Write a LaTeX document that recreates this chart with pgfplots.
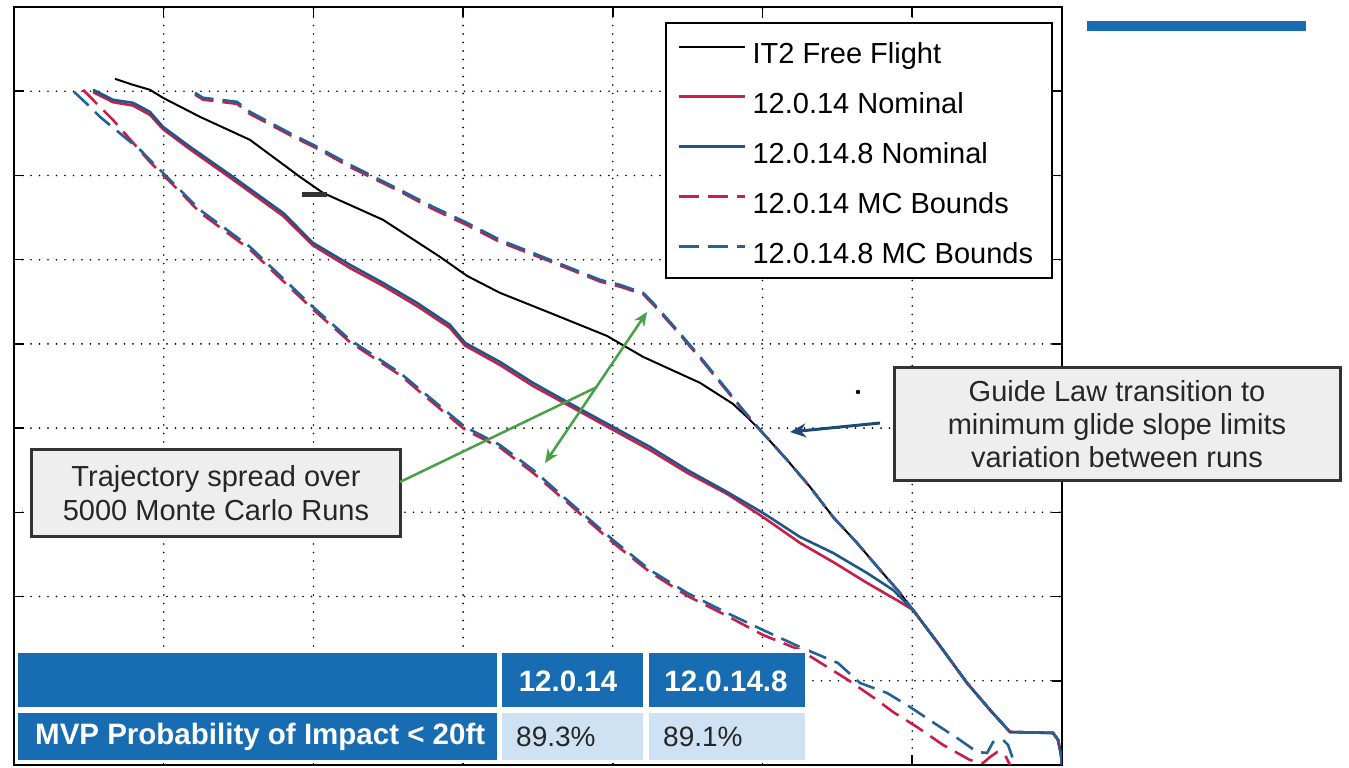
\documentclass[border=0pt]{standalone}
\usepackage{fontspec}
\setmainfont{Liberation Sans}
\usepackage{pgfplots}
\pgfplotsset{compat=1.18}
\usetikzlibrary{arrows.meta}

\definecolor{mblue}{RGB}{30,86,136}
\definecolor{mbluedash}{RGB}{34,98,150}
\definecolor{mred}{RGB}{200,30,72}
\definecolor{tblue}{RGB}{24,108,178}
\definecolor{tlight}{RGB}{207,226,243}
\definecolor{boxgray}{RGB}{238,238,238}
\definecolor{annblue}{RGB}{28,74,118}
\definecolor{agreen}{RGB}{72,160,72}

\begin{document}
\begin{tikzpicture}
\path[use as bounding box] (0,0) rectangle (1349pt,768pt);
\begin{axis}[
  at={(14pt,3pt)}, anchor=south west,
  scale only axis, width=1048pt, height=758pt,
  xmin=0, xmax=7, ymin=0, ymax=9,
  xtick={0,...,7}, ytick={0,...,9},
  xticklabels={}, yticklabels={},
  tick pos=both, tick align=inside, major tick length=10pt,
  every tick/.style={black, line width=1.5pt},
  axis line style={line width=2pt},
  grid=major,
  major grid style={black, line width=1.8pt, dash pattern=on 0pt off 8.5pt, line cap=round},
  legend cell align=left,
  legend image code/.code={\path (0pt,0pt); \draw[#1] (0pt,4pt) -- (66pt,4pt);},
  legend style={at={(0.6212,0.9802)}, anchor=north west, draw=black, line width=2pt,
    fill=white, font=\fontsize{29}{29}\selectfont, inner xsep=12pt, inner ysep=11pt,
    row sep=17pt, nodes={inner sep=0pt, text height=29pt, text depth=4pt},
    /tikz/every odd column/.append style={column sep=6pt}},
]
% IT2 Free Flight
\addplot[black, line width=2pt] coordinates {
(0.675,8.147) (0.795,8.076) (0.908,8.017) (0.995,7.922) (1.242,7.696) (1.576,7.423)
(1.910,6.983) (2.064,6.793) (2.465,6.473) (2.846,6.033) (3.026,5.808) (3.246,5.606)
(3.581,5.368) (3.961,5.095) (4.202,4.846) (4.583,4.537) (4.803,4.287) (4.896,4.133)
(4.983,3.979) (5.164,3.622) (5.317,3.302) (5.471,2.945) (5.631,2.637) (5.785,2.316)
(5.918,2.043) (6.005,1.841) (6.186,1.413) (6.366,0.974) (6.520,0.653) (6.653,0.392)
(6.941,0.380) (6.974,0.297) (6.994,0.119) (7.000,0.000)};
\addlegendentry{IT2 Free Flight}
% 12.0.14 Nominal
\addplot[mred, line width=2.6pt] coordinates {
(0.528,7.990) (0.661,7.870) (0.795,7.830) (0.908,7.720) (0.995,7.550) (1.176,7.310)
(1.463,6.950) (1.797,6.520) (1.997,6.170) (2.245,5.900) (2.465,5.690) (2.692,5.450)
(2.912,5.190) (3.013,4.980) (3.246,4.750) (3.467,4.500) (3.694,4.280) (4.001,3.980)
(4.248,3.740) (4.496,3.470) (4.763,3.219) (5.003,2.945) (5.250,2.637) (5.471,2.411)
(5.698,2.162) (5.918,1.936) (6.005,1.841) (6.186,1.413) (6.366,0.974) (6.520,0.653)
(6.653,0.392) (6.941,0.380) (6.974,0.297) (6.994,0.119) (7.000,0.000)};
\addlegendentry{12.0.14 Nominal}
% 12.0.14.8 Nominal
\addplot[mblue, line width=2.6pt] coordinates {
(0.528,8.017) (0.661,7.898) (0.795,7.862) (0.908,7.755) (0.995,7.577) (1.176,7.340)
(1.463,6.983) (1.797,6.556) (1.997,6.200) (2.245,5.938) (2.465,5.724) (2.692,5.487)
(2.912,5.226) (3.013,5.012) (3.246,4.786) (3.467,4.537) (3.694,4.311) (4.001,4.014)
(4.248,3.777) (4.496,3.504) (4.763,3.242) (5.003,2.993) (5.250,2.708) (5.471,2.518)
(5.698,2.280) (5.872,2.078) (5.939,1.960) (6.005,1.841) (6.186,1.413) (6.366,0.974)
(6.520,0.653) (6.653,0.392) (6.941,0.380) (6.974,0.297) (6.994,0.119) (7.000,0.000)};
\addlegendentry{12.0.14.8 Nominal}
% 12.0.14 MC Bounds (lower, upper)
\addplot[mred, line width=2.6pt, dash pattern=on 20pt off 9pt] coordinates {
(0.461,8.017) (0.574,7.815) (0.661,7.660) (0.908,7.160) (1.129,6.770) (1.242,6.560)
(1.576,6.120) (1.997,5.410) (2.245,5.020) (2.578,4.630) (3.013,3.980) (3.246,3.770)
(3.467,3.470) (3.694,3.120) (4.001,2.640) (4.248,2.290) (4.496,2.010) (4.763,1.770)
(5.003,1.544) (5.250,1.366) (5.571,1.010) (5.765,0.772) (5.872,0.629) (6.032,0.451)
(6.206,0.238) (6.386,0.059) (6.473,0.024) (6.520,0.095) (6.567,0.154) (6.620,0.119)
(6.653,0.000)};
\addlegendentry{12.0.14 MC Bounds}
\addplot[mred, line width=2.6pt, dash pattern=on 20pt off 9pt, forget plot] coordinates {
(1.209,7.960) (1.263,7.900) (1.490,7.850) (1.576,7.730) (1.864,7.460) (2.024,7.320)
(2.245,7.100) (2.578,6.810) (2.799,6.600) (3.026,6.410) (3.246,6.210) (3.581,5.980)
(3.915,5.740) (4.048,5.680) (4.202,5.590) (4.269,5.470) (4.429,5.150) (4.583,4.830)
(4.763,4.440) (4.870,4.210) (4.983,3.979) (5.164,3.622) (5.317,3.302) (5.471,2.945)
(5.631,2.637) (5.785,2.316) (5.918,2.043) (6.005,1.841) (6.186,1.413) (6.366,0.974)
(6.520,0.653) (6.653,0.392) (6.941,0.380) (6.974,0.297) (6.994,0.119) (7.000,0.000)};
% 12.0.14.8 MC Bounds (lower, upper)
\addplot[mbluedash, line width=2.6pt, dash pattern=on 20pt off 9pt] coordinates {
(0.401,7.993) (0.494,7.838) (0.574,7.696) (0.842,7.304) (0.908,7.185) (1.129,6.793)
(1.242,6.591) (1.576,6.152) (1.997,5.439) (2.245,5.048) (2.578,4.656) (3.013,4.014)
(3.246,3.800) (3.467,3.504) (3.694,3.147) (4.001,2.672) (4.248,2.316) (4.496,2.043)
(4.763,1.805) (5.003,1.603) (5.250,1.401) (5.504,1.211) (5.651,0.974) (5.832,0.855)
(5.985,0.689) (6.166,0.475) (6.319,0.297) (6.433,0.154) (6.500,0.143) (6.540,0.273)
(6.607,0.297) (6.640,0.238) (6.687,0.000)};
\addlegendentry{12.0.14.8 MC Bounds\hspace*{7pt}}
\addplot[mbluedash, line width=2.6pt, dash pattern=on 20pt off 9pt, forget plot] coordinates {
(1.209,7.981) (1.263,7.922) (1.490,7.874) (1.576,7.755) (1.864,7.482) (2.024,7.340)
(2.245,7.126) (2.578,6.829) (2.799,6.627) (3.026,6.437) (3.246,6.235) (3.581,5.998)
(3.915,5.760) (4.048,5.701) (4.202,5.606) (4.269,5.487) (4.429,5.166) (4.583,4.846)
(4.763,4.454) (4.870,4.216) (4.983,3.979) (5.164,3.622) (5.317,3.302) (5.471,2.945)
(5.631,2.637) (5.785,2.316) (5.918,2.043) (6.005,1.841) (6.186,1.413) (6.366,0.974)
(6.520,0.653) (6.653,0.392) (6.941,0.380) (6.974,0.297) (6.994,0.119) (7.000,0.000)};
% short stub on the free-flight trace
\addplot[black!80, line width=5pt, forget plot] coordinates {(1.924,6.770) (2.091,6.770)};
\end{axis}

\begin{scope}[x=1pt, y=-1pt, yshift=768pt]
  % blue bar top right
  \fill[tblue] (1087,21) rectangle (1306,31);
  % guide law annotation
  \draw[line width=3pt, draw=black!80, fill=boxgray] (894,368) rectangle (1340,481);
  \node[align=center, font=\fontsize{29}{33}\selectfont, text=black!85] at (1117,424)
    {Guide Law transition to\\minimum glide slope limits\\variation between runs};
  \draw[annblue, line width=3pt, -{Stealth[length=16pt,width=14pt]}] (880,423) -- (790,432);
  \fill[black] (858,392) circle (2.2);
  % trajectory spread annotation
  \draw[line width=3pt, draw=black!80, fill=boxgray] (31,450) rectangle (400,537);
  \node[align=center, font=\fontsize{29}{34}\selectfont, text=black!85] at (216,493)
    {Trajectory spread over\\5000 Monte Carlo Runs};
  \draw[agreen, line width=2.5pt] (400,482) -- (597,387);
  \draw[agreen, line width=2.5pt, {Stealth[length=14pt,width=12pt]}-{Stealth[length=14pt,width=12pt]}] (545,463) -- (647,312);
  % table
  \fill[white] (15,649) rectangle (809,763);
  \fill[tblue] (18,653) rectangle (497,707);
  \fill[tblue] (502,653) rectangle (643,707);
  \fill[tblue] (649,653) rectangle (805,707);
  \fill[tblue] (18,713) rectangle (497,760);
  \fill[tlight] (502,713) rectangle (643,760);
  \fill[tlight] (649,713) rectangle (805,760);
  \node[text=white, font=\bfseries\fontsize{29.5}{29.5}\selectfont] at (568,681) {12.0.14};
  \node[text=white, font=\bfseries\fontsize{29.5}{29.5}\selectfont] at (726,681) {12.0.14.8};
  \node[text=white, anchor=west, inner sep=0pt, font=\bfseries\fontsize{29.5}{29.5}\selectfont] at (35,737) {MVP Probability of Impact < 20ft};
  \node[text=black!85, anchor=west, inner sep=0pt, font=\fontsize{28}{28}\selectfont] at (516,737) {89.3\%};
  \node[text=black!85, anchor=west, inner sep=0pt, font=\fontsize{28}{28}\selectfont] at (663,737) {89.1\%};
\end{scope}
\end{tikzpicture}
\end{document}
